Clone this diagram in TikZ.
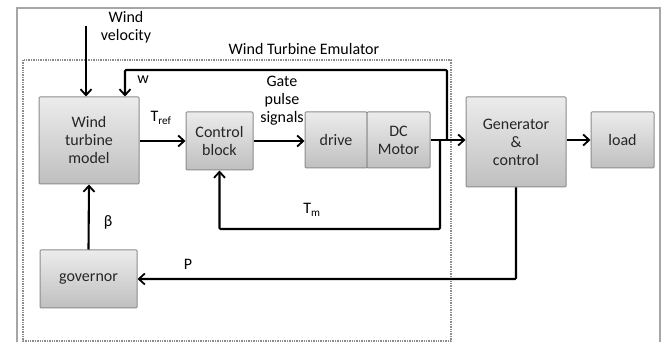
\documentclass[tikz,border=0pt]{standalone}
\usepackage{fontspec}
\setmainfont{Carlito}
\usepackage{tikz}
\usetikzlibrary{
  positioning, arrows.meta, calc, shadings
}

\begin{document}
\begin{tikzpicture}[x=1pt,y=-1pt,
    blk/.style={draw=gray!90, line width=1pt, top color=gray!15, bottom color=gray!50,
      rounded corners=1pt, align=center, text=black!85, inner sep=2pt},
    sig/.style={line width=2.1pt, -{Straight Barb[length=6pt,width=11pt,line width=1.8pt]}},
    lbl/.style={align=center, inner sep=0pt},
    font=\fontsize{16}{18}\selectfont]
    \clip (0,0) rectangle (665,342);
    \fill[white] (0,0) rectangle (665,342);
    \draw[gray!70, line width=2.2pt] (17,8) rectangle (660,370);
    \draw[gray!90, densely dotted, line width=1.4pt] (23,60) rectangle (451,341);
    \node[lbl] (emu) at (304,49) {Wind Turbine Emulator};

\node[blk, minimum width=100pt, minimum height=87pt] (wtm) at (89,140.5) {Wind\\turbine\\model};
\node[blk, minimum width=67pt, minimum height=58pt] (ctrl) at (219.5,141) {Control\\block};
\node[blk, minimum width=62pt, minimum height=56pt] (drive) at (336,140) {drive};
\node[blk, minimum width=63pt, minimum height=56pt] (motor) at (398.5,140) {DC\\Motor};
\node[blk, minimum width=100pt, minimum height=90pt] (gen) at (516,142) {Generator\\\&\\control};
\node[blk, minimum width=63pt, minimum height=56pt] (load) at (622.5,140) {load};
\node[blk, minimum width=97pt, minimum height=58pt] (gov) at (88.5,279) {governor};

    \coordinate (wv) at (86,26);
    \coordinate (jw) at (447,140);
    \coordinate (wtop) at (125,70);
    \coordinate (jm) at (440,140);
    \coordinate (tmc) at (219.5,229);

\draw[sig] (wv) -- (wv |- wtm.north);
\draw[sig, rounded corners=1pt] (jw) |- (wtop) -- (wtop |- wtm.north);
\draw[sig] (wtm.east |- ctrl.west) -- (ctrl.west);
\draw[sig] (ctrl.east) -- (ctrl.east -| drive.west);
\draw[sig] (motor.east) -- (motor.east -| gen.west);
\draw[sig, rounded corners=1pt] (jm) |- (tmc) -- (ctrl.south);
\draw[sig] (gen.east |- load.west) -- (load.west);
\draw[sig, rounded corners=1pt] (gen.south) |- (gov.east);
\draw[sig] (gov.north) -- (wtm.south);

    \node[lbl] (wvl) at (126,27) {Wind\\velocity};
    \node[lbl] (wl) at (143,80) {w};
    \node[lbl] (trl) at (161,118) {T\textsubscript{ref}};
    \node[lbl] (gpl) at (282,101) {Gate\\pulse\\signals};
    \node[lbl] (tml) at (312,210) {T\textsubscript{m}};
    \node[lbl] (pl) at (188,264) {P};
    \node[lbl] (bl) at (108,222) {β};
\end{tikzpicture}
\end{document}
